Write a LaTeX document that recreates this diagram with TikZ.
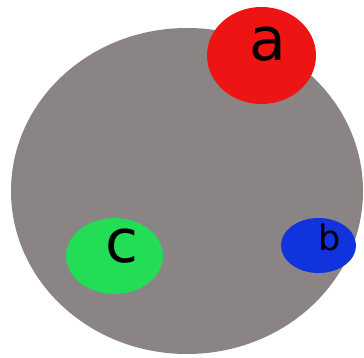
\documentclass[tikz,border=0pt]{standalone}
\usepackage{fontspec}
\setmainfont{DejaVu Sans}
\definecolor{bggray}{HTML}{8A8484}
\definecolor{redA}{HTML}{EE1414}
\definecolor{greenC}{HTML}{22DD55}
\definecolor{blueB}{HTML}{1133DD}
\begin{document}
\begin{tikzpicture}[x=1pt,y=-1pt,
  lbl/.style={text=black, inner sep=0pt, anchor=center}]
\useasboundingbox (0,0) rectangle (364,358);
\fill[bggray] (187,191) ellipse [x radius=176, y radius=163];
\fill[redA] (261.5,55.5) ellipse [x radius=54.5, y radius=48.5];
\fill[greenC] (114.5,256) ellipse [x radius=48.5, y radius=38];
\fill[blueB] (318.5,245.5) ellipse [x radius=37.5, y radius=27.5];
\node[lbl, font=\fontsize{60}{64}\selectfont] (a) at (268,44) {a};
\node[lbl, font=\fontsize{60}{64}\selectfont] (c) at (122,246) {c};
\node[lbl, font=\fontsize{35}{38}\selectfont] (b) at (330,237) {b};
\end{tikzpicture}
\end{document}
